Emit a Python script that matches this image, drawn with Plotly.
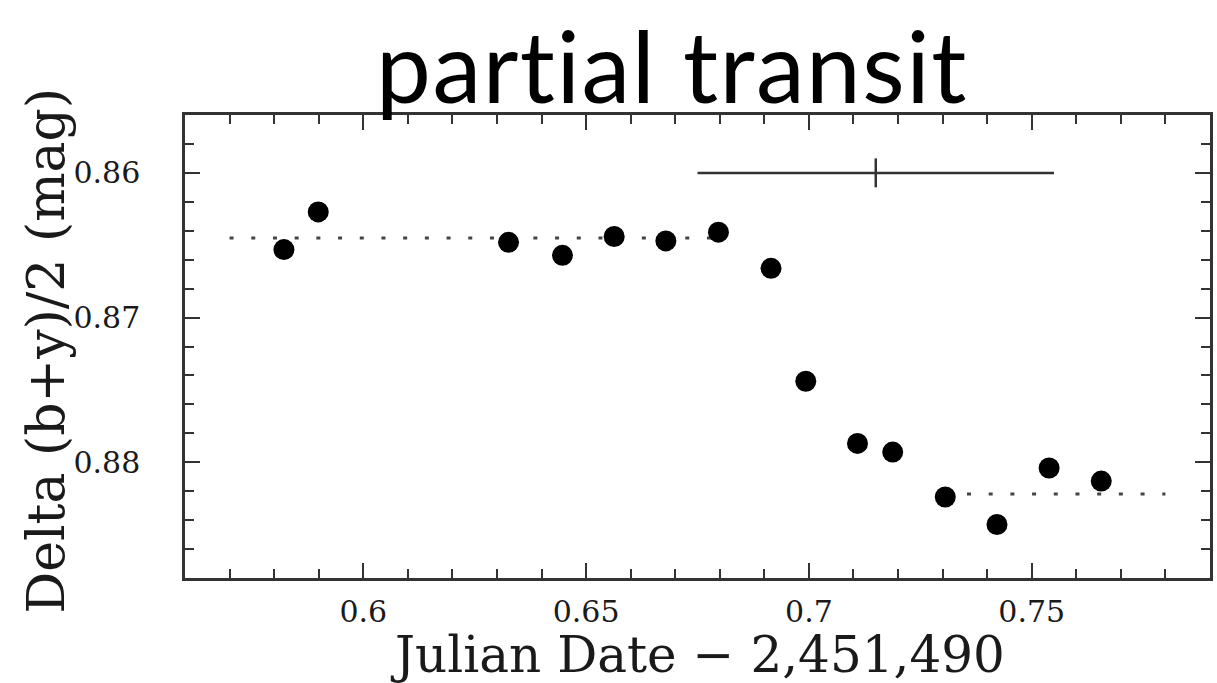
import plotly.graph_objects as go

# Differential photometry, Delta (b+y)/2 in magnitudes
jd_offset = [0.5822, 0.5899, 0.6326, 0.6447, 0.6563, 0.6679, 0.6797, 0.6915,
             0.6993, 0.7109, 0.7188, 0.7306, 0.7422, 0.7539, 0.7656]
delta_mag = [0.8653, 0.8627, 0.8648, 0.8657, 0.8644, 0.8647, 0.8641, 0.8666,
             0.8744, 0.8787, 0.8793, 0.8824, 0.8843, 0.8804, 0.8813]

# Mean out-of-transit and in-transit levels
pre_level_x = [0.570, 0.680]
pre_level_y = [0.8645, 0.8645]
in_level_x = [0.7306, 0.780]
in_level_y = [0.8822, 0.8822]

# Predicted transit time with its uncertainty
pred_x = [0.715]
pred_y = [0.860]
pred_xerr = [0.040]
pred_yerr = [0.001]

x_ticks = [0.6, 0.65, 0.7, 0.75]
x_tick_text = ["0.6", "0.65", "0.7", "0.75"]
y_ticks = [0.86, 0.87, 0.88]
y_tick_text = ["0.86", "0.87", "0.88"]

frame_col = "#333"
tick_font = dict(family="DejaVu Serif", size=30, color="#1a1a1a")

fig = go.Figure()

dot_line = dict(color="#444", width=3, dash="4px,17.7px")
fig.add_trace(go.Scatter(x=pre_level_x, y=pre_level_y, mode="lines",
                         line=dot_line, hoverinfo="skip"))
fig.add_trace(go.Scatter(x=in_level_x, y=in_level_y, mode="lines",
                         line=dot_line, hoverinfo="skip"))

fig.add_trace(go.Scatter(
    x=pred_x, y=pred_y, mode="markers",
    marker=dict(size=1, color="rgba(0,0,0,0)"),
    error_x=dict(type="data", array=pred_xerr, color="#333", thickness=2.5, width=0),
    error_y=dict(type="data", array=pred_yerr, color="#333", thickness=2.5, width=0),
))

fig.add_trace(go.Scatter(
    x=jd_offset, y=delta_mag, mode="markers",
    marker=dict(size=21, color="black", line=dict(width=0)),
))

axis_common = dict(
    showline=True, linecolor=frame_col, linewidth=2.5, mirror="allticks",
    ticks="inside", ticklen=15, tickwidth=2, tickcolor=frame_col,
    showgrid=False, zeroline=False, tickfont=tick_font,
)

fig.update_xaxes(
    range=[0.56, 0.79], tickvals=x_ticks, ticktext=x_tick_text,
    minor=dict(dtick=0.01, tick0=0.6, ticks="inside", ticklen=9,
               tickwidth=2, tickcolor=frame_col, showgrid=False),
    ticklabelstandoff=5,
    **axis_common,
)
fig.update_yaxes(
    range=[0.888, 0.856], tickvals=y_ticks, ticktext=y_tick_text,
    minor=dict(dtick=0.002, tick0=0.86, ticks="inside", ticklen=9,
               tickwidth=2, tickcolor=frame_col, showgrid=False),
    ticklabelstandoff=36,
    **axis_common,
)

fig.add_annotation(text="<span style='letter-spacing:1.5px'>partial transit</span>",
                   xref="paper", yref="paper",
                   x=(673 - 185) / 1028, y=1, yanchor="bottom", yshift=-10,
                   borderpad=0, showarrow=False,
                   font=dict(family="Lato", size=98, color="black"))
fig.add_annotation(text="Julian Date \u2212 2,451,490", xref="paper", yref="paper",
                   x=0.5, y=0, yanchor="middle", yshift=-77, showarrow=False,
                   font=dict(family="DejaVu Serif", size=50, color="#1a1a1a"))
fig.add_annotation(text="Delta (b+y)/2 (mag)", xref="paper", yref="paper",
                   x=0, y=0.5, xanchor="center", xshift=-140, yshift=-4,
                   textangle=-90, showarrow=False,
                   font=dict(family="DejaVu Serif", size=52, color="#1a1a1a"))

fig.update_layout(
    width=1217, height=683, showlegend=False,
    paper_bgcolor="white", plot_bgcolor="white",
    margin=dict(l=185, r=4, t=115, b=105),
)

fig.write_html("out.html")
